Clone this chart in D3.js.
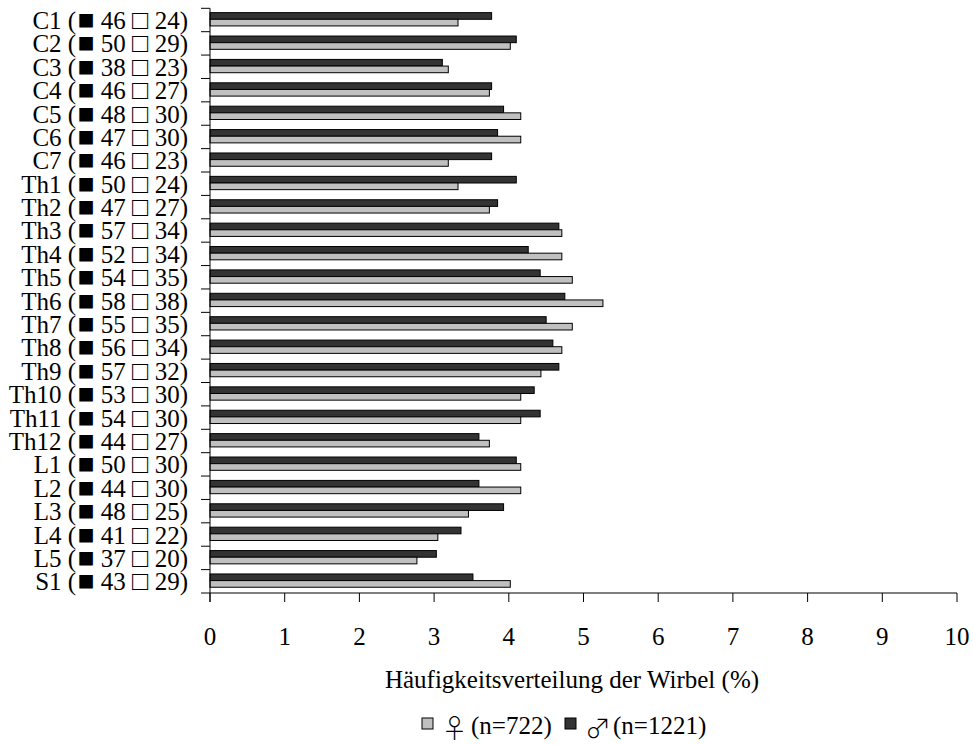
<!DOCTYPE html>
<html>
<head>
<meta charset="utf-8">
<script src="https://cdn.jsdelivr.net/npm/d3@7"></script>
<style>
  html, body { margin: 0; padding: 0; background: #fff; }
  svg { display: block; font-family: "Liberation Serif", "Times New Roman", serif; }
  text { white-space: pre; }
</style>
</head>
<body>
<svg id="chart" width="973" height="745"></svg>
<script>
// Vertebra levels, top to bottom
const categories = ["C1","C2","C3","C4","C5","C6","C7",
  "Th1","Th2","Th3","Th4","Th5","Th6","Th7","Th8","Th9","Th10","Th11","Th12",
  "L1","L2","L3","L4","L5","S1"];

// Absolute counts shown in the labels (■ male, □ female)
const maleCounts   = [46,50,38,46,48,47,46,50,47,57,52,54,58,55,56,57,53,54,44,50,44,48,41,37,43];
const femaleCounts = [24,29,23,27,30,30,23,24,27,34,34,35,38,35,34,32,30,30,27,30,30,25,22,20,29];

// Relative frequency per level (%)
const malePct   = [3.77,4.10,3.11,3.77,3.93,3.85,3.77,4.10,3.85,4.67,4.26,4.42,4.75,4.50,4.59,4.67,4.34,4.42,3.60,4.10,3.60,3.93,3.36,3.03,3.52];
const femalePct = [3.32,4.02,3.19,3.74,4.16,4.16,3.19,3.32,3.74,4.71,4.71,4.85,5.26,4.85,4.71,4.43,4.16,4.16,3.74,4.16,4.16,3.46,3.05,2.77,4.02];

const xTicks = [0,1,2,3,4,5,6,7,8,9,10];
const seriesKeys = ["male", "female"];
const legendItems = [
  { key: "female", symbol: "\u2640", label: "(n=722)" },
  { key: "male",   symbol: "\u2642", label: "(n=1221)" }
];

const colors = { male: "#333333", female: "#c0c0c0" };

const svg = d3.select("#chart");
const plotLeft = 210, plotRight = 957, plotTop = 8.3, plotBottom = 593;
const fontSize = 25;
const genderFont = "Noto Sans CJK JP";

const x = d3.scaleLinear().domain([0, 10]).range([plotLeft, plotRight]);
const y = d3.scaleBand().domain(categories).range([plotTop, plotBottom]).padding(0);
const ySub = d3.scaleBand().domain(seriesKeys).range([0, y.bandwidth()])
  .paddingInner(0).paddingOuter(0.76).align(0.43);
// boundaries between levels, for the y tick marks
const yEdge = d3.scaleLinear().domain([0, categories.length]).range([plotTop, plotBottom]);

const rows = categories.map((c, i) => ({
  cat: c, male: malePct[i], female: femalePct[i],
  mCount: maleCounts[i], fCount: femaleCounts[i]
}));

// bars
const g = svg.append("g");
const rowG = g.selectAll("g.row").data(rows).join("g")
  .attr("class", "row")
  .attr("transform", d => `translate(0,${y(d.cat)})`);

rowG.selectAll("rect")
  .data(d => seriesKeys.map(k => ({ key: k, value: d[k] })))
  .join("rect")
  .attr("x", x(0))
  .attr("y", d => ySub(d.key))
  .attr("width", d => x(d.value) - x(0))
  .attr("height", ySub.bandwidth())
  .attr("fill", d => colors[d.key])
  .attr("stroke", "#000")
  .attr("stroke-width", 1);

// x axis
const xAxis = d3.axisBottom(x).tickValues(xTicks).tickFormat(d3.format("d"))
  .tickSize(9).tickSizeOuter(0).tickPadding(25).offset(0);
const gx = svg.append("g").attr("transform", `translate(0,${Math.round(plotBottom)})`).call(xAxis);
gx.selectAll("text").attr("font-size", fontSize).attr("font-family", "Liberation Serif").attr("fill", "#000");
gx.selectAll("line,path").attr("stroke", "#000");

// y axis: ticks at the level boundaries, labels drawn separately
const yAxis = d3.axisLeft(yEdge).tickValues(d3.range(categories.length + 1))
  .tickFormat("").tickSize(9).tickSizeOuter(0).offset(0);
const gy = svg.append("g").attr("transform", `translate(${plotLeft},0)`).call(yAxis);
gy.selectAll("line,path").attr("stroke", "#000");
// extend the y axis line down to the end of the x ticks
gy.append("line").attr("x1", 0).attr("x2", 0)
  .attr("y1", Math.round(plotBottom)).attr("y2", Math.round(plotBottom) + 9)
  .attr("stroke", "#000");

// level labels: "C1 (■ 46 □ 24)"
const labels = svg.append("g")
  .attr("font-size", fontSize)
  .attr("text-anchor", "end")
  .attr("fill", "#000");
const lt = labels.selectAll("text").data(rows).join("text")
  .attr("x", 188)
  .attr("y", d => y(d.cat) + y.bandwidth() / 2 + 9);
lt.append("tspan").text(d => `${d.cat} (`);
lt.append("tspan").attr("font-size", 28).attr("dx", 1.5).text("\u25A0");
lt.append("tspan").text(d => ` ${d.mCount} `);
lt.append("tspan").attr("font-size", 27).text("\u25A1");
lt.append("tspan").text(d => ` ${d.fCount})`);

// axis title
svg.append("text")
  .attr("x", 572).attr("y", 688)
  .attr("text-anchor", "middle")
  .attr("font-size", fontSize)
  .text("Häufigkeitsverteilung der Wirbel (%)");

// legend
const legendPos = [{ rx: 422, sx: 454.5, tx: 471 }, { rx: 565, sx: 598, tx: 613 }];
const lg = svg.append("g").attr("font-size", fontSize).attr("fill", "#000");
legendItems.forEach((item, i) => {
  lg.append("rect")
    .attr("x", legendPos[i].rx).attr("y", 718)
    .attr("width", 11).attr("height", 11)
    .attr("fill", colors[item.key]).attr("stroke", "#000");
  lg.append("text")
    .attr("x", legendPos[i].sx).attr("y", 738)
    .attr("text-anchor", "middle")
    .attr("font-family", genderFont)
    .attr("font-weight", 300)
    .attr("font-size", 26)
    .text(item.symbol);
  lg.append("text")
    .attr("x", legendPos[i].tx).attr("y", 734)
    .text(item.label);
});
</script>
</body>
</html>
